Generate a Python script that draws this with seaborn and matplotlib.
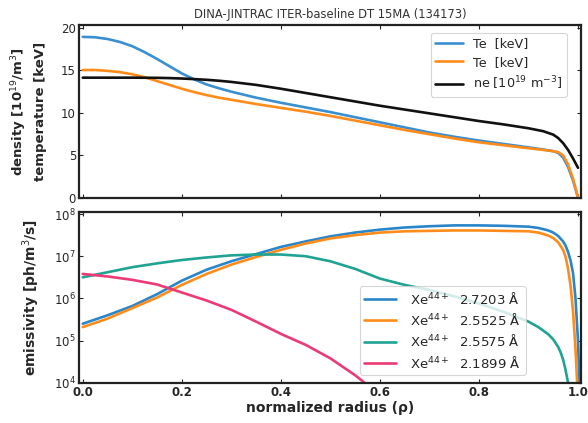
import numpy as np
import pandas as pd
import matplotlib
matplotlib.use("Agg")
import matplotlib.pyplot as plt
import seaborn as sns

# ---- data ----
rho_top = [0.0, 0.025, 0.05, 0.075, 0.1, 0.125, 0.15, 0.175, 0.2, 0.225, 0.25, 0.275, 0.3, 0.35, 0.4,
           0.45, 0.5, 0.55, 0.6, 0.65, 0.7, 0.75, 0.8, 0.85, 0.9, 0.93, 0.95, 0.96, 0.97, 0.98, 0.99, 1.0]
te_blue = [18.9, 18.85, 18.65, 18.3, 17.8, 17.1, 16.3, 15.45, 14.6, 13.9, 13.3, 12.85, 12.45, 11.75, 11.15,
           10.6, 10.05, 9.45, 8.85, 8.25, 7.65, 7.15, 6.7, 6.3, 5.9, 5.65, 5.45, 5.25, 4.7, 3.6, 2.0, 0.0]
te_orange = [15.0, 15.0, 14.9, 14.75, 14.5, 14.15, 13.7, 13.25, 12.8, 12.4, 12.05, 11.75, 11.5, 11.0, 10.55,
             10.1, 9.6, 9.05, 8.5, 7.95, 7.45, 6.95, 6.5, 6.15, 5.8, 5.6, 5.45, 5.35, 4.95, 3.9, 2.2, 0.0]
ne_black = [14.1, 14.1, 14.1, 14.1, 14.1, 14.09, 14.08, 14.05, 14.0, 13.93, 13.85, 13.74, 13.6, 13.25, 12.8,
            12.3, 11.8, 11.3, 10.8, 10.35, 9.9, 9.45, 9.0, 8.6, 8.15, 7.8, 7.4, 7.0, 6.4, 5.6, 4.6, 3.5]

rho_em = [0.0, 0.05, 0.1, 0.15, 0.2, 0.25, 0.3, 0.35, 0.4, 0.45, 0.5, 0.55, 0.6, 0.65, 0.7, 0.75, 0.8,
          0.85, 0.9, 0.92, 0.94, 0.95, 0.96, 0.97, 0.975, 0.98, 0.985, 0.99, 0.995, 1.0, 1.003, 1.006]
log_blue = [5.40, 5.60, 5.82, 6.10, 6.42, 6.68, 6.88, 7.05, 7.22, 7.35, 7.47, 7.56, 7.63, 7.68, 7.71, 7.73, 7.73,
            7.72, 7.70, 7.67, 7.61, 7.56, 7.48, 7.35, 7.25, 7.10, 6.90, 6.60, 6.0, 5.0, 4.0, 3.0]
log_orange = [5.32, 5.52, 5.77, 6.02, 6.32, 6.58, 6.80, 6.98, 7.15, 7.30, 7.42, 7.50, 7.56, 7.59, 7.60, 7.61, 7.61,
              7.60, 7.59, 7.56, 7.49, 7.43, 7.33, 7.15, 6.98, 6.70, 6.30, 5.70, 4.8, 3.6, 3.0, 3.0]
rho_green = [0.0, 0.05, 0.1, 0.15, 0.2, 0.25, 0.3, 0.35, 0.4, 0.45, 0.5, 0.55, 0.6, 0.65, 0.7, 0.75, 0.8,
             0.85, 0.9, 0.92, 0.94, 0.95, 0.96, 0.965, 0.97, 0.975, 0.98, 0.985]
log_green = [6.50, 6.62, 6.74, 6.83, 6.91, 6.97, 7.02, 7.04, 7.04, 7.00, 6.88, 6.70, 6.47, 6.32, 6.20, 6.05, 5.88,
             5.68, 5.45, 5.32, 5.15, 5.03, 4.85, 4.72, 4.55, 4.30, 4.0, 3.6]
rho_pink = [0.0, 0.05, 0.1, 0.15, 0.2, 0.25, 0.3, 0.35, 0.4, 0.45, 0.5, 0.55, 0.58]
log_pink = [6.58, 6.52, 6.44, 6.33, 6.14, 5.95, 5.73, 5.45, 5.16, 4.90, 4.58, 4.18, 3.9]

top_labels = ["Te  [keV]", "Te  [keV]", r"ne [10$^{19}$ m$^{-3}$]"]
em_labels = [r"Xe$^{44+}$  2.7203 Å", r"Xe$^{44+}$  2.5525 Å", r"Xe$^{44+}$  2.5575 Å", r"Xe$^{44+}$  2.1899 Å"]
title = "DINA-JINTRAC ITER-baseline DT 15MA (134173)"

top_colors = ["#3a8fd0", "#ff8c1a", "#111111"]
em_colors = ["#2a86c8", "#ff8c1a", "#1fa393", "#ec3a74"]

sns.set_style("ticks")
plt.rcParams['font.family'] = ['DejaVu Sans']
plt.rcParams['mathtext.fontset'] = 'dejavusans'

fig = plt.figure(figsize=(5.88, 4.23), dpi=100)
ax1 = fig.add_axes([0.134, 0.532, 0.854, 0.409])
ax2 = fig.add_axes([0.134, 0.095, 0.854, 0.404])

top_series = [te_blue, te_orange, ne_black]
for vals, c, lab in zip(top_series, top_colors, top_labels):
    d = pd.DataFrame({"rho": rho_top, "val": vals})
    sns.lineplot(data=d, x="rho", y="val", ax=ax1, color=c, lw=1.9, label=lab)

ems = [(rho_em, log_blue), (rho_em, log_orange), (rho_green, log_green), (rho_pink, log_pink)]
for (r, lv), c, lab in zip(ems, em_colors, em_labels):
    d = pd.DataFrame({"rho": r, "val": 10 ** np.array(lv)})
    sns.lineplot(data=d, x="rho", y="val", ax=ax2, color=c, lw=1.9, label=lab)

for ax in (ax1, ax2):
    ax.set_xlim(-0.008, 1.006)
    ax.set_xticks([0.0, 0.2, 0.4, 0.6, 0.8, 1.0])
    ax.tick_params(direction="in", top=True, right=True, length=3, width=0.8, labelsize=8.5, pad=2)
    for sp in ax.spines.values():
        sp.set_linewidth(1.6)
        sp.set_color("#222222")

ax1.set_ylim(-0.05, 20.3)
ax1.set_yticks([0, 5, 10, 15, 20])
ax1.tick_params(labelbottom=False)
ax1.set_xlabel("")
ax1.set_ylabel("density [10$^{19}$/m$^3$]\ntemperature [keV]", fontsize=9.5, fontweight="bold",
               labelpad=10, linespacing=1.5)
ax1.set_title(title, fontsize=8.3, pad=5, color="#333333")
leg1 = ax1.legend(loc="upper right", fontsize=9.2, frameon=True, handlelength=2.2, handletextpad=0.8,
                  borderpad=0.35, labelspacing=0.45, bbox_to_anchor=(0.972, 0.955), borderaxespad=0)
leg1.get_frame().set_edgecolor("#cccccc")
leg1.get_frame().set_linewidth(0.8)

ax2.set_yscale("log")
ax2.set_ylim(1e4, 1.12e8)
ax2.set_yticks([1e4, 1e5, 1e6, 1e7, 1e8])
ax2.yaxis.set_minor_locator(matplotlib.ticker.NullLocator())
for lbl in ax2.get_xticklabels():
    lbl.set_fontweight("bold")
ax2.set_xlabel("normalized radius (ρ)", fontsize=10, fontweight="bold", labelpad=2)
ax2.set_ylabel("emissivity [ph/m$^3$/s]", fontsize=10, fontweight="bold", labelpad=9)
leg2 = ax2.legend(loc="lower right", fontsize=9.5, frameon=True, handlelength=2.4, handletextpad=1.1,
                  borderpad=0.35, labelspacing=0.4, bbox_to_anchor=(0.89, 0.045), borderaxespad=0)
leg2.get_frame().set_edgecolor("#cccccc")
leg2.get_frame().set_linewidth(0.8)

fig.savefig("out.png", dpi=100)
